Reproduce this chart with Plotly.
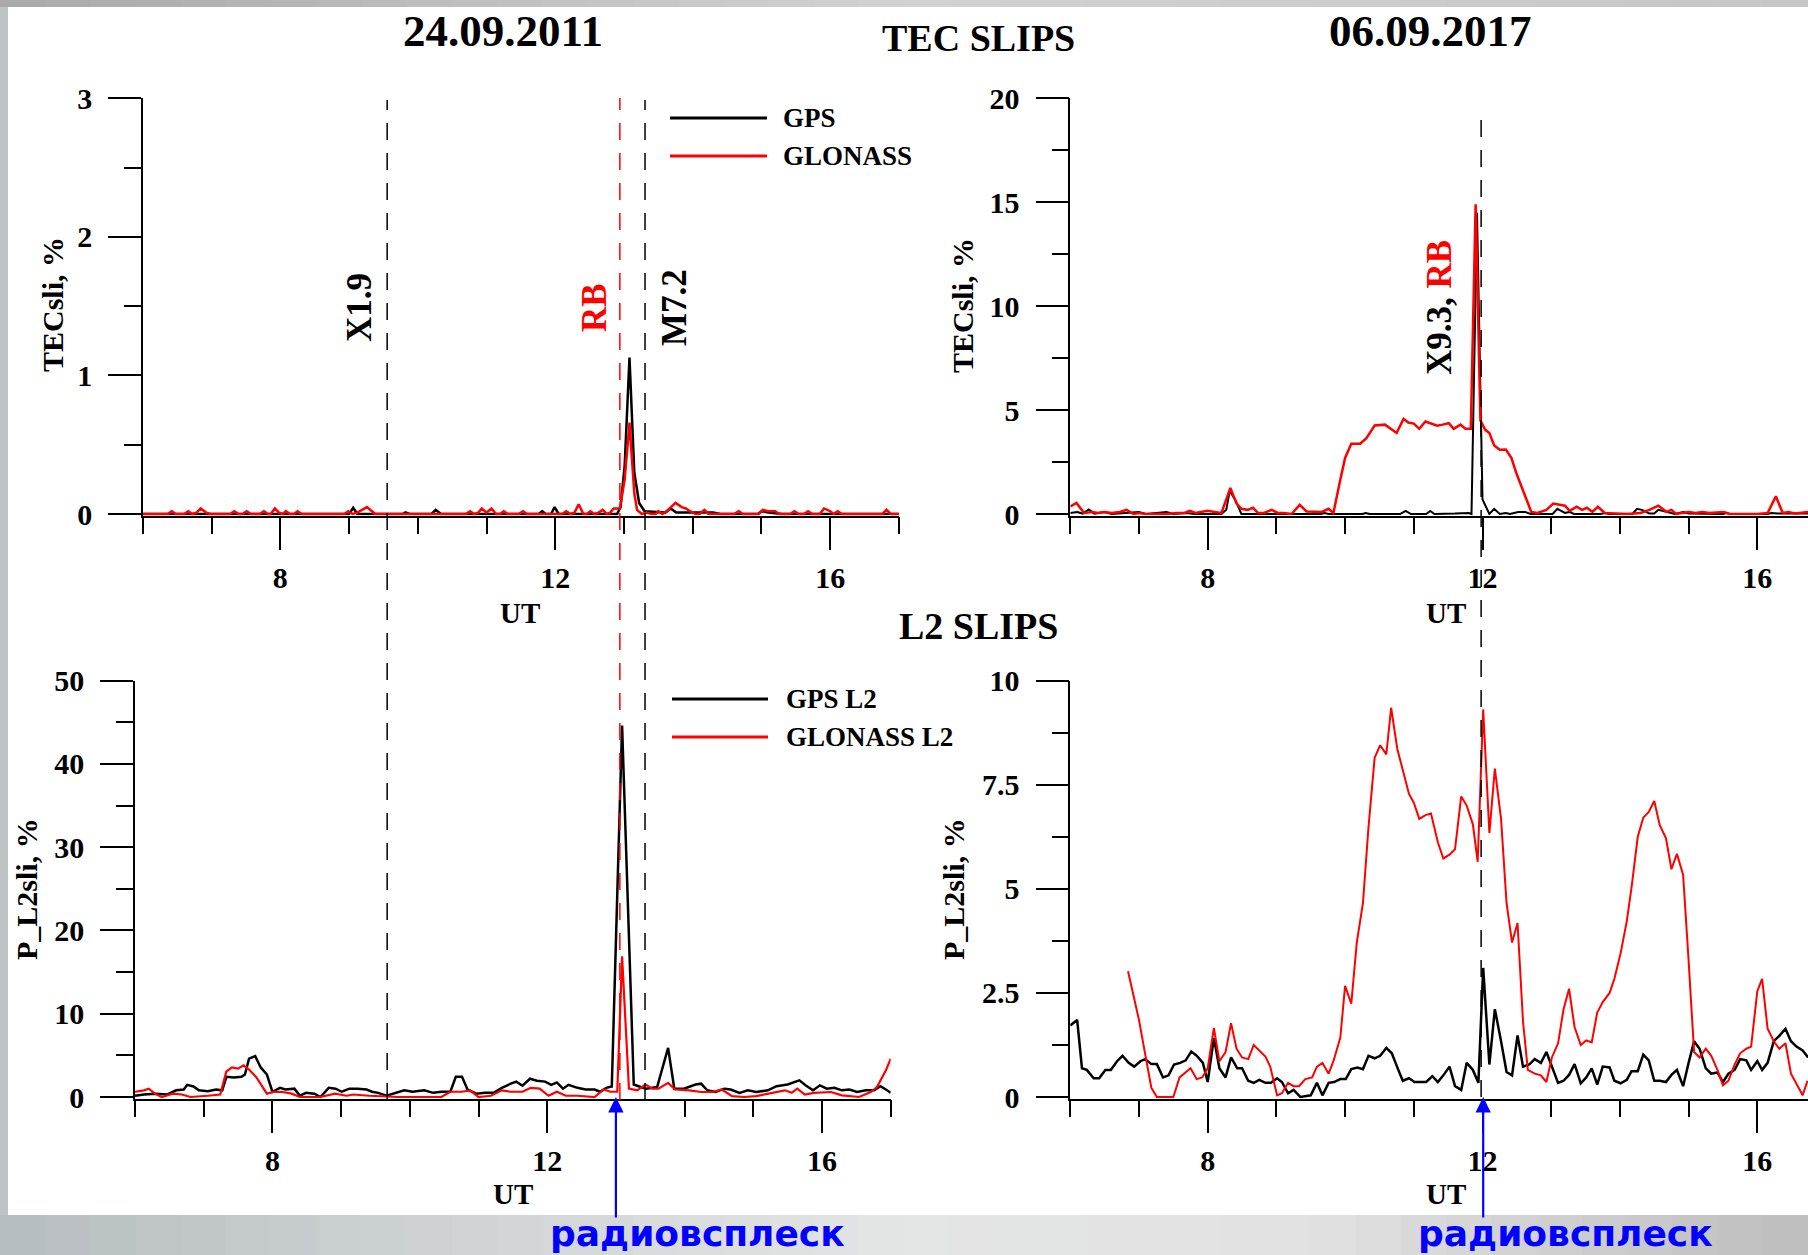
import plotly.graph_objects as go

W, H = 1808, 1255

# ---------------- DATA ----------------
# 24.09.2011 TEC slips (%), vertices (UT hours, value)
tec11_gps_t = [6.0, 9.0, 9.06, 9.12, 9.78, 9.82, 9.88, 10.2, 10.26, 10.34, 11.76, 11.81, 11.86, 11.94, 11.99, 12.05,
               12.9, 12.95, 13.01, 13.08, 13.15, 13.22, 13.3, 13.6, 13.68, 13.76, 14.0, 14.3, 14.4, 14.95, 15.0, 15.1,
               15.3, 17.0]
tec11_gps_v = [0, 0, 0.045, 0, 0, 0.012, 0, 0, 0.03, 0, 0, 0.02, 0, 0, 0.05, 0,
               0, 0.05, 0.35, 1.13, 0.3, 0.08, 0.02, 0.01, 0.04, 0.01, 0.01, 0.01, 0, 0, 0.02, 0.01,
               0, 0]
tec11_glo_t = [6.0, 6.36, 6.42, 6.48, 6.6, 6.66, 6.72, 6.78, 6.84, 6.92, 6.98, 7.27, 7.33, 7.39, 7.45, 7.51, 7.57,
               7.7, 7.76, 7.82, 7.86, 7.92, 7.98, 8.04, 8.08, 8.14, 8.2, 8.25, 8.31, 8.93, 8.99, 9.05, 9.12, 9.26,
               9.38, 10.7, 10.76, 10.82, 10.88, 10.93, 11.0, 11.07, 11.14, 11.2, 11.25, 11.31, 11.47, 11.53, 11.59,
               12.1, 12.16, 12.22, 12.28, 12.34, 12.41, 12.46, 12.51, 12.57, 12.63, 12.69, 12.75, 12.8, 12.85,
               12.94, 13.01, 13.08, 13.15, 13.19, 13.26, 13.33, 13.4, 13.46, 13.5, 13.56, 13.62, 13.75, 13.84,
               13.9, 13.96, 14.04, 14.1, 14.17, 14.23, 14.6, 14.67, 14.73, 14.96, 15.02, 15.1, 15.2, 15.26, 15.42,
               15.48, 15.54, 15.62, 15.68, 15.74, 15.85, 15.91, 16.0, 16.05, 16.11, 16.17, 16.76, 16.82, 16.88,
               17.0]
tec11_glo_v = [0, 0, 0.02, 0, 0, 0.02, 0, 0.01, 0.04, 0.01, 0, 0, 0.02, 0, 0, 0.02, 0,
               0, 0.02, 0, 0, 0.04, 0.01, 0, 0.02, 0, 0, 0.02, 0, 0, 0.02, 0, 0.01, 0.05,
               0, 0, 0.02, 0, 0.01, 0.04, 0.01, 0.04, 0, 0, 0.02, 0, 0, 0.02, 0,
               0, 0.02, 0, 0.01, 0.07, 0, 0, 0.02, 0, 0.01, 0.03, 0, 0.01, 0.04,
               0.04, 0.25, 0.66, 0.15, 0.03, 0, 0.01, 0, 0, 0.02, 0, 0.02, 0.08, 0.05,
               0.04, 0.02, 0, 0, 0.03, 0, 0, 0.02, 0, 0, 0.03, 0.02, 0.02, 0, 0,
               0.02, 0, 0, 0.02, 0, 0, 0.04, 0.02, 0, 0.02, 0, 0, 0.03, 0,
               0]

# 06.09.2017 TEC slips (%)
tec17_gps_t = [6.0, 6.1, 6.18, 6.27, 6.35, 6.5, 6.6, 6.9, 7.0, 7.1, 7.4, 7.5, 7.7, 7.8, 8.2, 8.27, 8.32, 8.4, 8.49,
               9.65, 9.7, 9.76, 10.25, 10.3, 10.36, 10.8, 10.88, 10.96, 11.18, 11.24, 11.3, 11.6, 11.72, 11.8,
               11.84, 11.92, 12.0, 12.1, 12.17, 12.25, 12.34, 12.4, 12.52, 12.62, 12.7, 13.02, 13.09, 13.2, 13.27,
               13.33, 13.72, 13.78, 13.84, 14.18, 14.25, 14.32, 14.43, 14.5, 14.56, 14.63, 14.72, 14.8, 14.92,
               15.0, 15.5, 15.55, 15.6, 16.15, 16.2, 16.3, 16.74]
tec17_gps_v = [0.05, 0.1, 0.02, 0.22, 0.02, 0.1, 0.0, 0.1, 0.1, 0.0, 0.1, 0.0, 0.05, 0, 0, 0.2, 1.1, 0.7, 0.0,
               0, 0.05, 0, 0, 0.05, 0, 0, 0.15, 0, 0, 0.15, 0, 0.02, 0.05, 0.05,
               0, 14.5, 0.7, 0.0, 0.25, 0.0, 0.05, 0.0, 0.1, 0.1, 0, 0, 0.25, 0.05, 0.1,
               0, 0, 0.05, 0, 0, 0.25, 0.2, 0.02, 0.02, 0.2, 0.15, 0.05, 0.0, 0.1,
               0.02, 0, 0.05, 0, 0, 0.05, 0.03, 0.03]
tec17_glo_t = [6.0, 6.09, 6.2, 6.32, 6.4, 6.5, 6.6, 6.72, 6.82, 6.92, 7.0, 7.1, 7.4, 7.55, 7.66, 7.74, 7.82, 7.92,
               8.0, 8.1, 8.2, 8.33, 8.42, 8.49, 8.58, 8.66, 8.73, 8.82, 8.93, 9.02, 9.1, 9.22, 9.34, 9.44, 9.55,
               9.66, 9.76, 9.83, 9.93, 10.0, 10.09, 10.22, 10.31, 10.43, 10.58, 10.75, 10.85, 10.92, 11.0, 11.08,
               11.17, 11.26, 11.34, 11.42, 11.51, 11.58, 11.68, 11.75, 11.83, 11.9, 11.97, 12.04, 12.1, 12.17,
               12.25, 12.34, 12.42, 12.5, 12.59, 12.71, 12.8, 12.93, 13.03, 13.2, 13.27, 13.37, 13.45, 13.52,
               13.6, 13.68, 13.78, 13.9, 14.1, 14.3, 14.43, 14.56, 14.68, 14.75, 14.82, 15.0, 15.1, 15.2, 15.3,
               15.51, 15.6, 16.0, 16.15, 16.27, 16.37, 16.45, 16.55, 16.74]
tec17_glo_v = [0.36, 0.53, 0.05, 0.1, 0.05, 0.1, 0.05, 0.1, 0.2, 0.0, 0.05, 0, 0, 0.05, 0.05, 0.15, 0.05, 0.1,
               0.15, 0.1, 0.05, 1.25, 0.5, 0.25, 0.2, 0.3, 0.05, 0.05, 0.2, 0.05, 0.05, 0, 0.44, 0.12, 0.1,
               0.1, 0.25, 0.05, 1.65, 2.7, 3.38, 3.38, 3.65, 4.26, 4.3, 3.9, 4.58, 4.4, 4.35, 4.1,
               4.45, 4.35, 4.25, 4.3, 4.37, 4.1, 4.3, 4.1, 4.1, 14.9, 4.5, 4.05, 3.9, 3.3,
               3.09, 3.1, 2.7, 1.9, 1.1, 0.1, 0.05, 0.2, 0.5, 0.4, 0.15, 0.35, 0.2, 0.3,
               0.1, 0.35, 0.05, 0.02, 0, 0.05, 0.2, 0.4, 0.1, 0.2, 0.0, 0.1, 0.05, 0.1, 0.05,
               0.1, 0.0, 0.0, 0.05, 0.85, 0.05, 0.1, 0.02, 0.1]

# 24.09.2011 L2 slips (%)
l2_11_gps_t = [6.0, 6.13, 6.3, 6.47, 6.6, 6.71, 6.76, 6.85, 6.93, 7.06, 7.18, 7.27, 7.33, 7.44, 7.55, 7.6, 7.66,
               7.75, 7.83, 7.92, 8.0, 8.11, 8.19, 8.32, 8.4, 8.49, 8.61, 8.7, 8.82, 8.92, 9.01, 9.12, 9.24, 9.37,
               9.45, 9.54, 9.66, 9.79, 9.92, 10.04, 10.21, 10.34, 10.46, 10.59, 10.67, 10.76, 10.84, 10.97,
               11.09, 11.22, 11.34, 11.47, 11.55, 11.64, 11.75, 11.85, 11.97, 12.06, 12.14, 12.23, 12.31, 12.44,
               12.56, 12.69, 12.77, 12.86, 12.94, 13.09, 13.26, 13.36, 13.44, 13.6, 13.76, 13.85, 13.99, 14.16,
               14.24, 14.33, 14.45, 14.58, 14.67, 14.8, 14.92, 15.04, 15.21, 15.34, 15.5, 15.67, 15.76, 15.87,
               15.97, 16.07, 16.18, 16.29, 16.4, 16.51, 16.64, 16.76, 16.85, 16.93, 17.0]
l2_11_gps_v = [0.15, 0.3, 0.4, 0.3, 0.8, 0.9, 1.46, 1.26, 0.8, 0.7, 0.9, 0.8, 2.43, 2.33, 2.43, 2.7, 4.6,
               4.9, 3.55, 2.7, 0.63, 1.1, 0.9, 1.0, 0.15, 0.5, 0.4, 0.0, 1.1, 1.0, 0.63, 1.0, 1.0, 0.9,
               0.63, 0.5, 0.15, 0.5, 0.8, 0.63, 0.8, 0.5, 0.63, 0.63, 2.43, 2.43, 0.9, 0.4,
               0.5, 0.5, 1.1, 1.6, 1.85, 1.36, 2.19, 1.95, 1.85, 1.46, 1.75, 1.0, 1.46, 1.1,
               0.9, 0.9, 0.63, 1.1, 1.26, 44.6, 1.5, 1.2, 1.0, 1.2, 5.9, 1.0, 1.0, 1.5,
               1.6, 0.8, 0.6, 1.0, 0.9, 0.5, 0.8, 0.6, 0.8, 1.3, 1.5, 2.0, 1.4, 0.8,
               1.4, 1.0, 1.1, 0.8, 0.9, 0.6, 0.8, 0.8, 1.3, 0.9, 0.5]
l2_11_glo_t = [6.0, 6.13, 6.2, 6.29, 6.39, 6.55, 6.68, 6.81, 7.06, 7.24, 7.33, 7.41, 7.5, 7.58, 7.66, 7.77, 7.92,
               8.03, 8.15, 8.28, 8.4, 8.7, 8.91, 9.08, 9.18, 9.41, 9.83, 10.46, 10.59, 10.76, 10.88, 11.0, 11.18,
               11.34, 11.47, 11.64, 11.76, 11.89, 12.02, 12.14, 12.27, 12.44, 12.69, 12.82, 12.92, 13.02, 13.09,
               13.19, 13.31, 13.43, 13.53, 13.62, 13.76, 13.86, 14.07, 14.24, 14.41, 14.54, 14.69, 14.87, 15.04,
               15.29, 15.46, 15.56, 15.64, 15.75, 15.88, 16.13, 16.29, 16.54, 16.71, 16.8, 16.93, 17.0]
l2_11_glo_v = [0.63, 0.8, 1.0, 0.4, 0.0, 0.4, 0.3, 0.0, 0.15, 0.3, 3.06, 3.55, 3.4, 3.8, 3.3, 2.33, 0.4,
               0.63, 0.6, 0.4, 0.0, 0.0, 0.4, 0.15, 0.3, 0.15, 0.0, 0.0, 0.63, 0.63, 0.8, 0.0, 0.15,
               0.8, 0.63, 0.63, 1.1, 1.0, 0.15, 0.63, 0.15, 0.15, 0.0, 0.9, 0.63, 0.63, 16.9,
               1.0, 0.8, 1.5, 1.0, 1.0, 1.7, 0.9, 0.8, 0.6, 0.6, 0.9, 0.1, 0.0, 0.1,
               0.5, 0.8, 0.5, 1.0, 0.3, 0.5, 0.6, 0.2, 0.0, 0.6, 1.2, 3.2, 4.6]

# 06.09.2017 L2 slips (%)
l2_17_gps_t = [6.0, 6.1, 6.17, 6.24, 6.34, 6.42, 6.51, 6.59, 6.68, 6.76, 6.85, 6.93, 7.02, 7.09, 7.18, 7.26, 7.35,
               7.43, 7.51, 7.6, 7.68, 7.76, 7.84, 7.93, 8.0, 8.09, 8.17, 8.26, 8.34, 8.43, 8.5, 8.59, 8.67, 8.75,
               8.84, 8.92, 9.01, 9.08, 9.17, 9.25, 9.35, 9.5, 9.59, 9.67, 9.76, 9.84, 9.93, 10.01, 10.09, 10.18,
               10.26, 10.34, 10.43, 10.51, 10.6, 10.68, 10.77, 10.84, 10.93, 11.01, 11.1, 11.18, 11.27, 11.35,
               11.43, 11.52, 11.6, 11.69, 11.77, 11.86, 11.94, 12.01, 12.1, 12.18, 12.27, 12.35, 12.43, 12.51,
               12.59, 12.68, 12.76, 12.85, 12.93, 13.01, 13.1, 13.18, 13.26, 13.34, 13.43, 13.51, 13.59, 13.67,
               13.75, 13.85, 13.92, 14.01, 14.1, 14.17, 14.26, 14.34, 14.42, 14.5, 14.58, 14.67, 14.75, 14.83,
               14.92, 15.0, 15.08, 15.16, 15.25, 15.33, 15.42, 15.5, 15.58, 15.67, 15.75, 15.84, 15.91, 16.0,
               16.07, 16.15, 16.24, 16.32, 16.41, 16.49, 16.57, 16.66, 16.74]
l2_17_gps_v = [1.72, 1.85, 0.69, 0.65, 0.45, 0.45, 0.65, 0.65, 0.86, 0.99, 0.82, 0.73, 0.86, 0.91, 0.79, 0.79, 0.47,
               0.52, 0.78, 0.82, 0.88, 1.09, 0.99, 0.82, 0.36, 1.42, 0.69, 0.47, 0.95, 0.69, 0.69, 0.39, 0.34, 0.41,
               0.34, 0.34, 0.45, 0.36, 0.09, 0.17, 0.0, 0.04, 0.34, 0.04, 0.34, 0.36, 0.43, 0.43, 0.67, 0.71,
               0.67, 0.99, 0.93, 0.99, 1.18, 1.05, 0.67, 0.39, 0.45, 0.36, 0.36, 0.36, 0.5, 0.36,
               0.52, 0.73, 0.26, 0.17, 0.82, 0.65, 0.34, 3.1, 0.78, 2.11, 1.34, 0.6, 0.52, 1.48,
               0.73, 0.78, 0.91, 0.82, 1.08, 0.73, 0.34, 0.39, 0.53, 0.79, 0.33, 0.47, 0.69, 0.3,
               0.73, 0.71, 0.39, 0.33, 0.41, 0.62, 0.62, 1.02, 0.88, 0.39, 0.39, 0.36, 0.53, 0.65,
               0.26, 0.82, 1.34, 1.16, 0.69, 0.56, 0.59, 0.36, 0.56, 0.65, 0.91, 0.88, 0.65, 0.86,
               0.65, 0.82, 1.34, 1.47, 1.64, 1.34, 1.21, 1.12, 0.95]
l2_17_glo_t = [6.84, 6.92, 7.0, 7.09, 7.18, 7.26, 7.5, 7.59, 7.75, 7.84, 7.92, 8.0, 8.09, 8.17, 8.26, 8.34, 8.42,
               8.5, 8.59, 8.67, 8.75, 8.84, 8.91, 9.01, 9.08, 9.17, 9.25, 9.33, 9.42, 9.52, 9.59, 9.67, 9.76, 9.83,
               9.93, 10.0, 10.09, 10.17, 10.26, 10.34, 10.43, 10.51, 10.6, 10.67, 10.76, 10.84, 10.93, 11.0,
               11.08, 11.17, 11.25, 11.35, 11.43, 11.52, 11.6, 11.69, 11.77, 11.86, 11.93, 12.01, 12.1, 12.18,
               12.27, 12.35, 12.43, 12.51, 12.59, 12.66, 12.76, 12.85, 12.93, 13.01, 13.1, 13.18, 13.26, 13.34,
               13.43, 13.51, 13.59, 13.67, 13.75, 13.85, 13.92, 14.01, 14.1, 14.17, 14.26, 14.34, 14.42, 14.5,
               14.58, 14.67, 14.75, 14.83, 14.92, 15.0, 15.08, 15.16, 15.25, 15.33, 15.42, 15.5, 15.58, 15.67,
               15.75, 15.84, 15.91, 16.0, 16.07, 16.15, 16.24, 16.32, 16.41, 16.49, 16.57, 16.66, 16.73]
l2_17_glo_v = [3.02, 2.41, 1.85, 1.03, 0.22, 0.0, 0.0, 0.47, 0.69, 0.43, 0.47, 0.69, 1.66, 0.86, 1.08, 1.77, 1.16,
               0.95, 0.91, 1.25, 1.12, 0.97, 0.73, 0.04, 0.09, 0.34, 0.26, 0.26, 0.43, 0.47, 0.73, 0.82, 0.56, 0.86,
               1.42, 2.67, 2.24, 3.71, 4.66, 6.47, 8.15, 8.45, 8.23, 9.35, 8.36, 7.84, 7.28, 7.07,
               6.68, 6.77, 6.81, 6.12, 5.73, 5.82, 5.95, 7.22, 7.0, 6.55, 5.65, 9.31, 6.34, 7.89,
               6.68, 4.66, 3.71, 4.18, 1.81, 0.65, 0.56, 0.52, 0.36, 0.95, 1.29, 2.11, 2.6, 1.68,
               1.25, 1.36, 1.31, 2.03, 2.28, 2.5, 2.84, 3.45, 4.22, 5.04, 6.25, 6.71, 6.85, 7.11,
               6.53, 6.22, 5.47, 5.84, 5.34, 3.28, 1.08, 0.95, 1.16, 0.99, 0.65, 0.28, 0.39, 0.78,
               1.05, 1.16, 1.21, 2.54, 2.84, 1.64, 1.34, 1.16, 1.29, 0.56, 0.30, 0.04, 0.39]

# event times (UT hours)
events_2011_black = [9.554, 13.306]      # X1.9, M7.2 flares
events_2011_red = [12.94]                # radio burst
events_2017_black = [11.98]              # X9.3 flare + RB
burst_2011_l2 = 13.0
burst_2017_l2 = 12.01

# ---------------- STYLE / LAYOUT ----------------
SERIF = "Liberation Serif"
BLK, RED, BLUE = "#000000", "#ff0000", "#0000ff"


def px_x(p):
    return p / W


def px_y(p):
    return 1 - p / H


def ydomain(top_px, zero_px, ymax, pad=1.5):
    ppu = (zero_px - top_px) / ymax
    return [px_y(zero_px + pad), px_y(top_px)], [-pad / ppu, ymax]


fig = go.Figure()


def add_line(t, v, color, width, xa, ya):
    fig.add_trace(go.Scatter(x=t, y=v, mode="lines", line=dict(color=color, width=width),
                             xaxis=xa, yaxis=ya, showlegend=False, hoverinfo="skip"))


add_line(tec11_gps_t, tec11_gps_v, BLK, 2.5, "x", "y")
add_line(tec11_glo_t, tec11_glo_v, RED, 2.5, "x", "y")
add_line(tec17_gps_t, tec17_gps_v, BLK, 2.0, "x2", "y2")
add_line(tec17_glo_t, tec17_glo_v, RED, 2.5, "x2", "y2")
add_line(l2_11_gps_t, l2_11_gps_v, BLK, 2.5, "x3", "y3")
add_line(l2_11_glo_t, l2_11_glo_v, RED, 2.2, "x3", "y3")
add_line(l2_17_gps_t, l2_17_gps_v, BLK, 2.5, "x4", "y4")
add_line(l2_17_glo_t, l2_17_glo_v, RED, 2.0, "x4", "y4")

tickfont = dict(family=SERIF, size=30, color=BLK, weight="bold")


def xaxis_cfg(dom, rng, anchor):
    return dict(domain=dom, range=rng, anchor=anchor, showline=True, linecolor=BLK, linewidth=1.5,
                ticks="outside", ticklen=33, tickwidth=1.5, tickcolor=BLK, dtick=4, tick0=0,
                minor=dict(ticks="outside", ticklen=17, tickwidth=1.5, tickcolor=BLK, dtick=1, tick0=0,
                           showgrid=False),
                showgrid=False, zeroline=False, tickfont=tickfont, ticklabelstandoff=2,
                layer="below traces", automargin=False)


def yaxis_cfg(dom, rng, anchor, dtick, mdtick):
    return dict(domain=dom, range=rng, anchor=anchor, showline=True, linecolor=BLK, linewidth=1.5,
                ticks="outside", ticklen=33, tickwidth=1.5, tickcolor=BLK, dtick=dtick, tick0=0,
                minor=dict(ticks="outside", ticklen=17, tickwidth=1.5, tickcolor=BLK, dtick=mdtick, tick0=0,
                           showgrid=False),
                showgrid=False, zeroline=False, tickfont=tickfont, ticklabelstandoff=10,
                layer="below traces", automargin=False)


top_dom, rng_tl = ydomain(98.4, 514, 3)
_, rng_tr = ydomain(98.4, 514, 20)
bot_dom, rng_bl = ydomain(680.7, 1097, 50)
_, rng_br = ydomain(680.7, 1097, 10)

ppH = 68.7
xr_right = 6 + (W - 1070.3) / ppH

fig.update_layout(
    width=W, height=H, margin=dict(l=0, r=0, t=0, b=0, pad=0, autoexpand=False),
    paper_bgcolor="#bfc3c4", plot_bgcolor="rgba(0,0,0,0)",
    xaxis=xaxis_cfg([px_x(142.9), px_x(898.9)], [6, 17], "y"),
    yaxis=yaxis_cfg(top_dom, rng_tl, "x", 1, 0.5),
    xaxis2=xaxis_cfg([px_x(1070.3), 1.0], [6, xr_right], "y2"),
    yaxis2=yaxis_cfg(top_dom, rng_tr, "x2", 5, 2.5),
    xaxis3=xaxis_cfg([px_x(135.0), px_x(890.7)], [6, 17], "y3"),
    yaxis3=yaxis_cfg(bot_dom, rng_bl, "x3", 10, 5),
    xaxis4=xaxis_cfg([px_x(1070.3), 1.0], [6, xr_right], "y4"),
    yaxis4=yaxis_cfg(bot_dom, rng_br, "x4", 2.5, 1.25),
)

shapes = []
# white sheet
shapes.append(dict(type="rect", xref="paper", yref="paper", x0=px_x(8), x1=1, y0=px_y(1215), y1=px_y(7),
                   fillcolor="white", line=dict(width=0), layer="below"))


def lerp_color(stops, p):
    for (p0, c0), (p1, c1) in zip(stops, stops[1:]):
        if p0 <= p <= p1:
            f = (p - p0) / (p1 - p0)
            a = [int(c0[i:i + 2], 16) for i in (1, 3, 5)]
            b = [int(c1[i:i + 2], 16) for i in (1, 3, 5)]
            return "#" + "".join(f"{round(a[k] + (b[k] - a[k]) * f):02x}" for k in range(3))
    return stops[-1][1]


bottom_stops = [(0, "#b6bdc0"), (450, "#cfd3d4"), (900, "#e4e5e5"), (1300, "#e2e2e2"), (1808, "#bdbdbd")]
top_stops = [(0, "#a9a9a9"), (900, "#d2d2d2"), (1808, "#c6c6c6")]
nstrip = 40
for i in range(nstrip):
    a, b = W * i / nstrip, W * (i + 1) / nstrip
    shapes.append(dict(type="rect", xref="paper", yref="paper", x0=px_x(a), x1=px_x(b) + 0.001,
                       y0=0, y1=px_y(1215), fillcolor=lerp_color(bottom_stops, (a + b) / 2),
                       line=dict(width=0), layer="below"))
    shapes.append(dict(type="rect", xref="paper", yref="paper", x0=px_x(a), x1=px_x(b) + 0.001,
                       y0=px_y(7), y1=1, fillcolor=lerp_color(top_stops, (a + b) / 2),
                       line=dict(width=0), layer="below"))

DASH = "17px,13px"
for t in events_2011_black:
    shapes.append(dict(type="line", xref="x", yref="paper", x0=t, x1=t, y0=px_y(1100), y1=px_y(100),
                       line=dict(color=BLK, width=1.5, dash=DASH)))
for t in events_2011_red:
    shapes.append(dict(type="line", xref="x", yref="paper", x0=t, x1=t, y0=px_y(1100), y1=px_y(98),
                       line=dict(color=RED, width=1.5, dash=DASH)))
for t in events_2017_black:
    shapes.append(dict(type="line", xref="x2", yref="paper", x0=t, x1=t, y0=px_y(1097), y1=px_y(114),
                       line=dict(color=BLK, width=1.5, dash=DASH)))

# legend samples
for (x0, x1, y, c) in [(670, 767, 118, BLK), (670, 767, 156, RED), (672, 768, 699, BLK), (672, 768, 737, RED)]:
    shapes.append(dict(type="line", xref="paper", yref="paper", x0=px_x(x0), x1=px_x(x1), y0=px_y(y), y1=px_y(y),
                       line=dict(color=c, width=3)))

fig.update_layout(shapes=shapes)

ann = []


def text(s, x, y, size, color=BLK, angle=0, xanchor="center", family=SERIF, weight="bold"):
    ann.append(dict(text=s, x=px_x(x), y=px_y(y), xref="paper", yref="paper", showarrow=False,
                    xanchor=xanchor, yanchor="middle", textangle=angle,
                    font=dict(family=family, size=size, color=color, weight=weight)))


text("24.09.2011", 503, 31, 45)
text("TEC SLIPS", 978, 38, 38)
text("06.09.2017", 1430, 31, 45)
text("L2 SLIPS", 978, 626, 38)
for (x, y) in [(520, 613), (1446, 613), (513, 1194), (1446, 1194)]:
    text("UT", x, y, 29)
text("TECsli, %", 52, 305, 30, angle=-90)
text("TECsli, %", 962, 305, 30, angle=-90)
text("P_L2sli, %", 26, 889, 30, angle=-90)
text("P_L2sli, %", 953, 889, 30, angle=-90)
text("X1.9", 360, 308, 35, angle=-90)
text("RB", 595, 308, 35, color=RED, angle=-90)
text("M7.2", 675, 308, 35, angle=-90)
text("X9.3, <span style='color:#ff0000'>RB</span>", 1440, 308, 35, angle=-90)
text("GPS", 781, 118, 27, xanchor="left")
text("GLONASS", 781, 156, 27, xanchor="left")
text("GPS L2", 784, 699, 27, xanchor="left")
text("GLONASS L2", 784, 737, 27, xanchor="left")
text("радиовсплеск", 697, 1233, 36, color=BLUE, family="DejaVu Sans")
text("радиовсплеск", 1565, 1233, 36, color=BLUE, family="DejaVu Sans")

for (x, xa, ya) in [(burst_2011_l2, "x3", "y3"), (burst_2017_l2, "x4", "y4")]:
    ann.append(dict(text="", x=x, y=0, xref=xa, yref=ya, showarrow=True, ax=0, ay=122,
                    arrowhead=2, arrowsize=1.4, arrowwidth=2.2, arrowcolor=BLUE, standoff=0))

fig.update_layout(annotations=ann)

fig.write_html("out.html")
